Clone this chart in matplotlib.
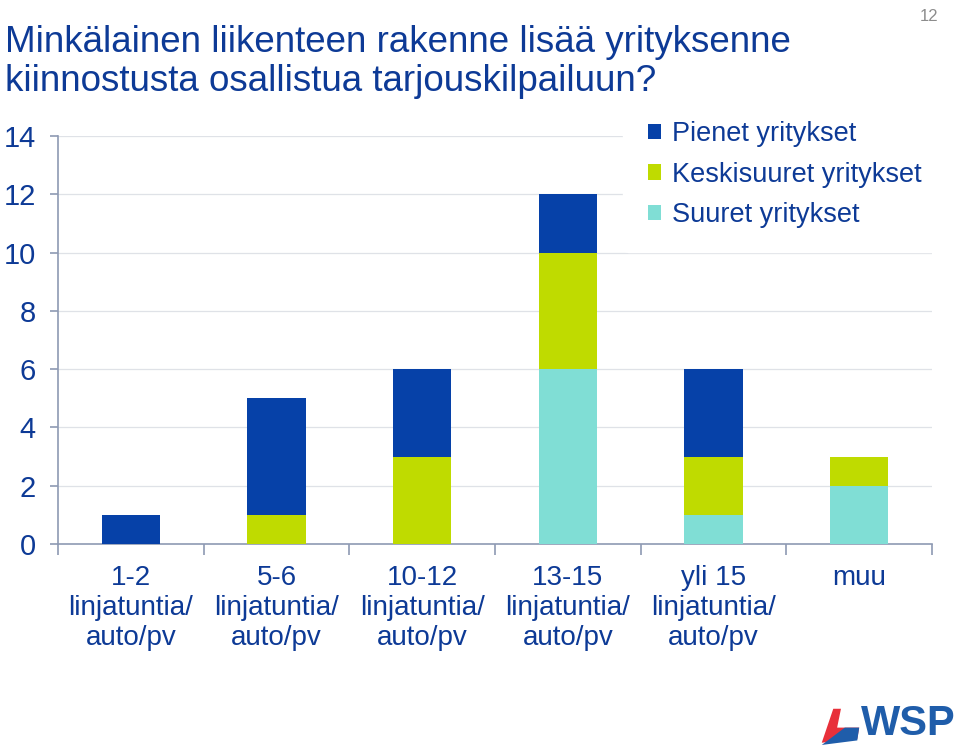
import matplotlib.pyplot as plt
import numpy as np
from matplotlib.patches import Polygon

plt.rcParams['font.family'] = ['Liberation Sans', 'DejaVu Sans']

# Data
categories = ['1-2\nlinjatuntia/\nauto/pv', '5-6\nlinjatuntia/\nauto/pv',
              '10-12\nlinjatuntia/\nauto/pv', '13-15\nlinjatuntia/\nauto/pv',
              'yli 15\nlinjatuntia/\nauto/pv', 'muu']
suuret = [0, 0, 0, 6, 1, 2]
keskisuuret = [0, 1, 3, 4, 2, 1]
pienet = [1, 4, 3, 2, 3, 0]

text_col = '#0D3A96'
c_pienet = '#0641A8'
c_keski = '#BFDB00'
c_suuret = '#80DED5'

fig = plt.figure(figsize=(9.6, 7.54), dpi=100)
ax = fig.add_axes([0.0604, 0.2785, 0.9106, 0.5411])

x = np.arange(len(categories))
w = 0.4
b1 = ax.bar(x, suuret, w, color=c_suuret, label='Suuret yritykset', zorder=3)
b2 = ax.bar(x, keskisuuret, w, bottom=suuret, color=c_keski,
            label='Keskisuuret yritykset', zorder=3)
bottom2 = np.array(suuret) + np.array(keskisuuret)
b3 = ax.bar(x, pienet, w, bottom=bottom2, color=c_pienet,
            label='Pienet yritykset', zorder=3)

ax.set_xlim(-0.5, len(categories) - 0.5)
ax.set_ylim(0, 14)
ax.set_yticks(range(0, 15, 2))
ax.yaxis.grid(True, color='#DFE2E7', linewidth=0.9, zorder=0)
ax.set_axisbelow(True)

for s in ['top', 'right']:
    ax.spines[s].set_visible(False)
for s in ['left', 'bottom']:
    ax.spines[s].set_color('#8E9AB3')
    ax.spines[s].set_linewidth(1.2)

ax.set_xticks(np.arange(-0.5, len(categories)), minor=False)
ax.set_xticklabels([])
ax.set_xticks(x, minor=True)
ax.set_xticklabels(categories, minor=True, fontsize=20, color=text_col,
                   linespacing=1.2)
ax.tick_params(axis='x', which='major', length=8, color='#8E9AB3', width=1.2)
ax.tick_params(axis='x', which='minor', length=0, pad=15)
ax.tick_params(axis='y', length=6, color='#8E9AB3', width=1.2, pad=10,
               labelsize=21, labelcolor=text_col)

leg = ax.legend(handles=[b3, b2, b1], loc='upper left',
                bbox_to_anchor=(0.6465, 1.0956), borderaxespad=0,
                frameon=True, framealpha=1,
                edgecolor='white', facecolor='white', fontsize=19.5,
                handlelength=0.5, handleheight=0.5, handletextpad=0.4,
                labelspacing=0.53, borderpad=0.9)
for t in leg.get_texts():
    t.set_color(text_col)

fig.text(0.005, 0.918, 'Minkälainen liikenteen rakenne lisää yrityksenne\n'
         'kiinnostusta osallistua tarjouskilpailuun?', fontsize=26.5,
         color=text_col, va='center', ha='left', linespacing=1.15)
fig.text(0.977, 0.988, '12', fontsize=12, color='#8C8C8C', ha='right', va='top')

# WSP logo
fig.text(0.995, 0.04, 'WSP', fontsize=30, fontweight='bold', color='#1F5DAA',
         ha='right', va='center')
fig.patches.append(Polygon([[0.856, 0.015], [0.868, 0.06], [0.876, 0.06],
                            [0.872, 0.035], [0.895, 0.035], [0.893, 0.02]],
                           closed=True, transform=fig.transFigure,
                           facecolor='#E8303A', edgecolor='none'))
fig.patches.append(Polygon([[0.856, 0.012], [0.893, 0.018], [0.895, 0.035],
                            [0.880, 0.035]],
                           closed=True, transform=fig.transFigure,
                           facecolor='#1F5DAA', edgecolor='none'))

fig.savefig('out.png', dpi=100, facecolor='white')
